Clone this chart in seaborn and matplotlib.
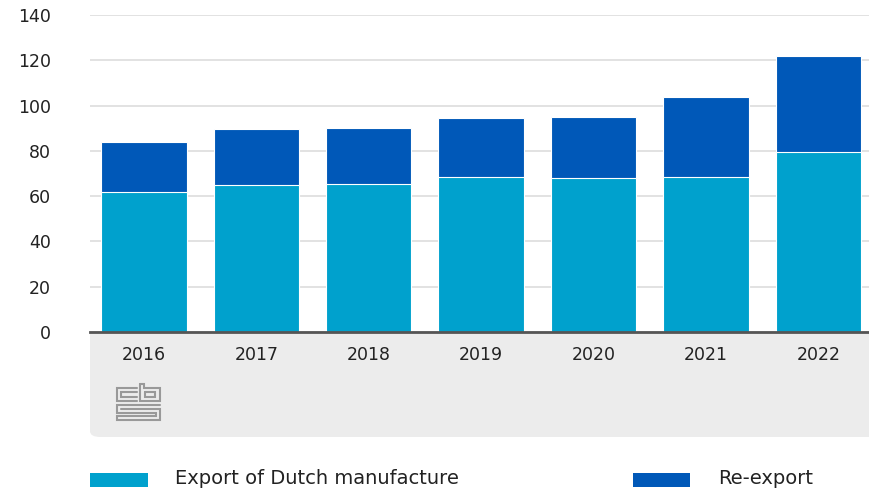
import matplotlib
matplotlib.use("Agg")
import matplotlib.pyplot as plt
from matplotlib.patches import Rectangle, FancyBboxPatch
from matplotlib.lines import Line2D
import seaborn as sns
import pandas as pd

# Data (billion euros)
years = ["2016", "2017", "2018", "2019", "2020", "2021", "2022"]
export_dutch = [61.8, 64.9, 65.4, 68.5, 68.0, 68.5, 79.5]
re_export = [22.1, 24.8, 24.7, 26.0, 27.0, 35.3, 42.4]
y_ticks = [0, 20, 40, 60, 80, 100, 120, 140]

LIGHT = "#00a1cd"
DARK = "#0058b8"
GREY_TXT = "#222222"

df = pd.DataFrame({"year": years, "export": export_dutch, "reexport": re_export})
df["total"] = df["export"] + df["reexport"]

sns.set_theme(style="white")
plt.rcParams["font.family"] = ["DejaVu Sans"]

fig = plt.figure(figsize=(8.69, 4.92), dpi=100)

# grey band under the x axis (labels + logo)
band_top, band_bot = 1 - 332 / 492, 1 - 437 / 492
fig.patches.append(FancyBboxPatch((90 / 869, band_bot), 1.2, band_top - band_bot,
                                  boxstyle="round,pad=0,rounding_size=0.012",
                                  transform=fig.transFigure, facecolor="#ececec",
                                  edgecolor="none", zorder=-2))
fig.patches.append(Rectangle((90 / 869, band_top - 0.05), 1.0, 0.05,
                             transform=fig.transFigure, facecolor="#ececec",
                             edgecolor="none", zorder=-2))

ax = fig.add_axes([90 / 869, band_top, 1 - 90 / 869, 1 - 15 / 492 - band_top])
ax.set_facecolor("none")
ax.set_zorder(1)

sns.barplot(data=df, x="year", y="total", color=DARK, width=0.76,
            edgecolor="white", linewidth=0.8, saturation=1, ax=ax, zorder=3)
sns.barplot(data=df, x="year", y="export", color=LIGHT, width=0.76,
            edgecolor="white", linewidth=0.8, saturation=1, ax=ax, zorder=3)

ax.set_ylim(0, 140)
ax.set_xlim(-0.48, 6.45)
ax.set_yticks(y_ticks)
ax.yaxis.grid(True, color="#dddddd", linewidth=1.2)
ax.set_axisbelow(True)
ax.set_xlabel("")
ax.set_ylabel("")
for s in ["top", "right", "left"]:
    ax.spines[s].set_visible(False)
ax.spines["bottom"].set_color("#555555")
ax.spines["bottom"].set_linewidth(2)
ax.spines["bottom"].set_zorder(5)
ax.tick_params(axis="y", length=0, pad=28, labelsize=12.5, labelcolor=GREY_TXT)
ax.tick_params(axis="x", length=0, pad=10, labelsize=12.5, labelcolor=GREY_TXT)

# cbs logo, rough line drawing
def px(x, y):
    return x / 869, 1 - y / 492

logo = [
    # c
    [(137, 388), (117, 388), (117, 401), (137, 401)],
    [(137, 392), (121, 392), (121, 397), (137, 397)],
    # b
    [(140, 384), (140, 401), (160, 401), (160, 388), (144, 388), (144, 384), (140, 384)],
    [(145, 392), (155, 392), (155, 397), (145, 397), (145, 392)],
    # s maze
    [(160, 405), (117, 405), (117, 413), (156, 413), (156, 416), (117, 416), (117, 420), (160, 420), (160, 409), (121, 409)],
]
for pts in logo:
    xs, ys = zip(*[px(x, y) for x, y in pts])
    fig.lines.append(Line2D(xs, ys, transform=fig.transFigure, color="#999999",
                            linewidth=1.5, solid_joinstyle="miter"))

# legend
for (x0, x1, tx, col, lab) in [(90, 148, 175, LIGHT, "Export of Dutch manufacture"),
                               (633, 690, 718, DARK, "Re-export")]:
    fig.patches.append(Rectangle((x0 / 869, 1 - 487 / 492), (x1 - x0) / 869, 14 / 492,
                                 transform=fig.transFigure, facecolor=col,
                                 edgecolor="none"))
    fig.text(tx / 869, 1 - 479 / 492, lab, fontsize=14, color=GREY_TXT,
             va="center", ha="left")

fig.savefig("out.png", dpi=100)
